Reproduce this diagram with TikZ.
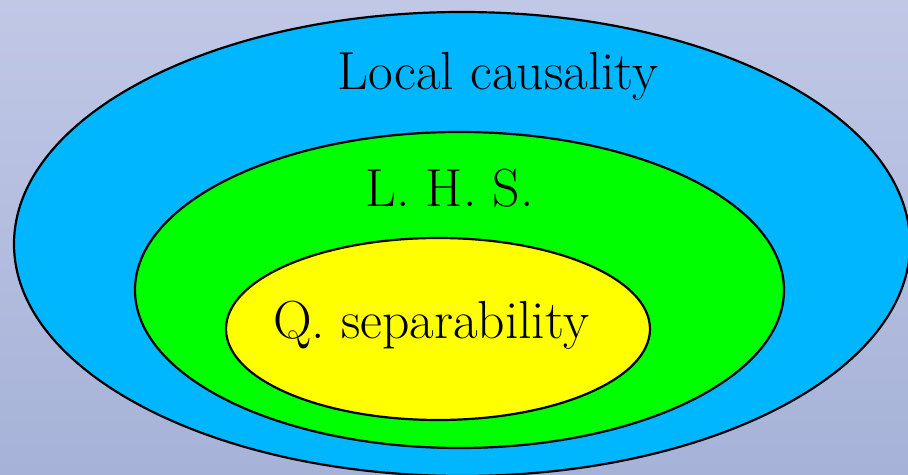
\documentclass[tikz,border=0pt]{standalone}
\usepackage{tikz}
\usetikzlibrary{positioning}
\definecolor{bgtop}{RGB}{193,200,230}
\definecolor{bgbottom}{RGB}{166,178,216}
\definecolor{causalblue}{RGB}{0,182,255}
\definecolor{lhsgreen}{RGB}{0,255,0}
\definecolor{sepyellow}{RGB}{255,255,0}
\tikzset{
	region/.style={draw=black, line width=1.1pt}, % outline of each set
	settext/.style={font=\fontsize{26.8}{30}\selectfont, anchor=base, inner sep=0pt}, % the set names
}

\begin{document}
\begin{tikzpicture}[x=0.5pt, y=-0.5pt]
	\path[use as bounding box, clip] (0,0) rectangle (908,475);
	\shade[top color=bgtop, bottom color=bgbottom] (0,0) rectangle (908,475);
	% nested sets
	\filldraw[region, fill=causalblue] (462,244) ellipse [x radius=448, y radius=232];
	\filldraw[region, fill=lhsgreen]   (459.5,290) ellipse [x radius=324.5, y radius=158];
	\filldraw[region, fill=sepyellow]  (438,329) ellipse [x radius=212, y radius=91];
	% labels
	\node (local) at (498,90)  [settext] {Local causality};
	\node (lhs)   at (449.5,207) [settext] {L. H. S.};
	\node (qsep)  at (431,338) [settext] {Q. separability};
\end{tikzpicture}
\end{document}
